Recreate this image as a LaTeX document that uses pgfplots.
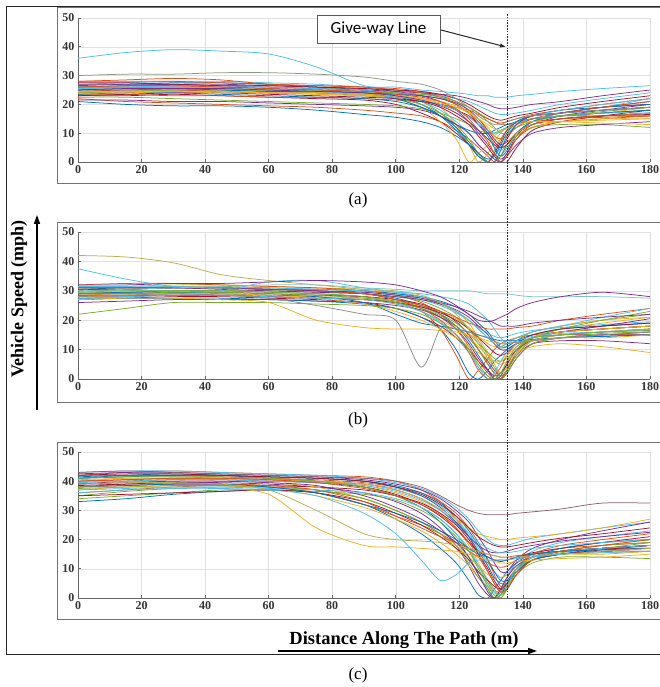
\documentclass[border=0pt]{standalone}
\usepackage{pgfplots}
\pgfplotsset{compat=1.18}
\usepackage{pgfplotstable}
\usepackage{fontspec}
\setmainfont{Liberation Serif}
\newfontfamily\carlito{Carlito}
\usetikzlibrary{arrows.meta}

\definecolor{mA}{rgb}{0,0.447,0.741}
\definecolor{mB}{rgb}{0.85,0.325,0.098}
\definecolor{mC}{rgb}{0.929,0.694,0.125}
\definecolor{mD}{rgb}{0.494,0.184,0.556}
\definecolor{mE}{rgb}{0.466,0.674,0.188}
\definecolor{mF}{rgb}{0.301,0.745,0.933}
\definecolor{mG}{rgb}{0.635,0.078,0.184}
\definecolor{mOl}{rgb}{0.72,0.68,0.35}
\definecolor{mGy}{rgb}{0.55,0.6,0.5}
\definecolor{mTe}{rgb}{0.5,0.76,0.8}
\definecolor{mDr}{rgb}{0.55,0.38,0.42}

\pgfplotscreateplotcyclelist{matlab}{{mA},{mB},{mC},{mD},{mE},{mF},{mG}}

\pgfplotstableread[header=has colnames]{
L 0 15 30 45 60 75 90 100 108 114 119 123 126 129 131 133 135 138 143 152 165 180
a1 36 38 39 38.5 37.5 33 26.5 26 25 24.5 24 23.5 23 23 22.5 22.5 22.5 23 23.5 24.5 25.5 26.5
a2 30 30.5 30.5 31 31 30.5 29.5 28 27 25 22 19 16 14 13 13 14 15 16 17 18 19
a3 21 20 19.5 19.5 19 18 16.5 15.5 14 12 9 6 3 0 0 2 6 10 13 15 16 17
a4 22 21 20.5 20 19.5 19 18 17 16 14 11 8 5 2 0 0 3 8 12 14 15 16
a5 25 25.5 26 26 26 25.5 25 24 22 19 13 6 0 3 7 10 12 14 15 16 17 19
a6 26 26.5 27 27 26.5 26 25.5 24.5 23 21 18 14 10 6 3 1 3 9 14 17 19 21
a7 24 24.5 25 25 25 24.5 24 23 21 17 12 6 2 0 4 8 11 13 15 16 17 18
a8 27 27.5 28 28 27.5 27 26 25 24 23 21 18 14 10 6 4 6 10 14 17 19 22
a9 23 23 23.5 23 22.5 22 21.5 20 17 14 10 6 3 0 3 7 11 14 16 17 19 20
a10 25 25 25.5 25.5 25 24.5 24 23.5 23 22 20 17 13 9 5 2 4 10 14 16 16 17
a11 28 28.5 29 28.5 27 26.5 26 25.5 24.5 23 21 19 17 15 14 13.5 14 15 16.5 18 20 22
a12 24 24 24.5 24.5 24 23.5 23 22 19 14 8 0 3 6 9 11 12 14 15 16 16 17
a13 26 26 26 26 25.5 25 24.5 24 23 22 20.5 18 15 11 8 6 7 10 13 16 18 20
a14 22.5 22.5 22 21.5 21 20.5 20 19.5 18.5 17 15 13 11 10 10 11 12 14 15 16 17 18
a15 25.5 26 26 25.5 25 25 24.5 24 23.5 23 22 21 19.5 18 17 16.5 16.5 17 18 20 22 24
a16 24.5 25 25 24.5 24 24 23.5 22.5 21 19 16 13 9 5 2 0 0 5 11 14 16 18
a17 26.5 27 27.5 27.5 27 26 25 23 20 16 11 6 2 0 0 4 9 13 15 16 17 18
a18 23.5 23.5 23 23 22.5 22.5 22 21.5 21 20 19 18 16.5 15 14 13 13 13.5 14 15 15.5 16
a19 25 25 25 25 24.5 24 23.5 23 22 20 17 14 11 8 6 5 6 9 12 14 15 15
a20 27 27 27 26.5 26 25.5 25 24.5 24 23.5 23 22 21 20 19 18.5 18.5 19 20 21 23 25
a21 24 24.5 25 25 24.5 24 23 22 20 17 13 8 3 0 0 2 5 9 12 13 13 12
a22 26 26 26.5 26.5 26 25.5 25 23.5 21 18 14 10 6 3 2 5 9 13 15 16 17 17
a23 23 23.5 24 24 23.5 23 22.5 22 21 20 18 16 13 10 7 5 6 10 13 15 16 16.5
a24 25 25.5 25.5 25 24.5 24.5 24 22 19 16 13 11 10 10 11 12 13 14 16 18 19 20
a25 28 28 28 27.5 27 26.5 26 25 24 22.5 20 17 14 11 9 8 9 12 15 17 19 21
a26 24.5 24.5 24.5 24 24 23.5 23 22.5 22 21 19.5 17.5 15 12 9 7 7 10 13 14 14.5 15
a27 21.5 21.5 21 21 20.5 20 19.5 19 18 16 13 10 6 3 1 0 2 6 10 12 13 14
a28 26 26 25.5 25.5 25 25 24.5 24 23.5 22.5 21 19 17 14 12 10 10 12 14 16 17.5 19
a29 25.5 25.5 26 25.5 25 24.5 23.5 22.5 21.5 20 18 15.5 13 11 10 10.5 12 14 16 18 20 22
a30 27.5 27.5 27 26.5 26.5 26 25.5 25 24.5 23.5 22 20 18 16 15 14.5 15 16 17 19 21 23
a31 23.5 24 24 23.5 23 22.5 22 21 19 16 12 7 3 1 2 6 10 14 16 17 18 19
a32 26 26.5 26.5 26 25.5 25 24.5 23.5 22.5 21 18.5 15 11 7 3 0 2 8 13 15 16 16
a33 24 24 24.5 24.5 24 24 23.5 23 22 20.5 19 17 15 13 11.5 11 11.5 13 14 14 13.5 13
a34 25 25.5 25.5 25.5 25 24.5 24 23 21.5 19.5 17 14 11 8 6 5 8 13 16 17 18 19
}\rawA
\pgfplotstabletranspose[colnames from=L,input colnames to=x]{\tA}{\rawA}

\pgfplotstableread[header=has colnames]{
L 0 15 30 45 60 75 90 100 108 114 119 123 126 129 131 133 135 138 143 152 165 180
b1 42 41.5 39.5 35.5 33.5 32 30.5 30 28.5 26 22 17 12 7 4 2 4 9 13 15 16 17
b2 37.5 34 31.5 31 31 30.5 30 29.5 29 28 27 25.5 23 20 17 14 12 13 14.5 15.5 16 16.5
b3 22 24 26 26 26 25.5 25 24 22 19 15 10 5 1 0 2 6 11 14 15 16 16.5
b4 27 27.5 27.5 27 26 20 17.5 17 17 16.5 16 15 14 13 12.5 12 12 12.5 13 14 14 15
b5 28 28.5 29 28.5 27.5 25 22 20 4 17 17 16 15 14 13 12 12 12.5 13 14 15 16
b6 30 30.5 31 31 30.5 30 29 27.5 25 22 18 13 8 3 0 0 3 9 14 16 17 18
b7 29 29.5 30 30 29.5 29 28 26 23 17 8 0 3 7 10 12 13 14 15 16 17 18
b8 31 31.5 32 32 31.5 31 30.5 29.5 28 26 23 19 14 9 5 2 4 9 14 17 19 21
b9 28 28 28.5 28.5 28 27.5 27 26 24 21 17 12 7 3 0 1 5 10 14 15 16 17
b10 30 30.5 31 31.5 32 32 31 30.5 30 30 30 30 29.5 29 29 29 29 28.5 28 28 28 27.5
b11 32 32 32.5 32.5 33 33.5 33 32 30 28 25 22 20 19.5 20 21 22 24 26 28 29.5 28
b12 31 31 31.5 31.5 31 30.5 30 29 27.5 25.5 23 20 17 14 12 10.5 11 13 16 18 20 22
b13 29.5 30 30 30 29.5 29 28 26 23 19 14 9 4 1 0 2 5 10 14 16 18 19
b14 27 27.5 28 28 27.5 27 26 24 21 18 14 10 6 3 1 2 5 10 13 15 15 16
b15 30.5 31 31 31 30.5 30.5 30 29 28 26.5 24.5 22 19 16 13 11 11 13 15 17 18 19
b16 32 32.5 32.5 32 31.5 31 30 28.5 26 22 17 11 6 2 0 0 3 9 14 16 17 18
b17 28.5 29 29 29 28.5 28 27.5 26.5 25 23 20.5 17.5 14.5 12 11 11 12 14 16 18 20 21
b18 26 26.5 27 27 27 26.5 26 25 23.5 21 18 14 10 6 3 1 3 8 12 13 13 12
b19 30 30 30 30 30 29.5 29 28 26.5 24 21 17 13 8 4 1 3 8 13 15 16 17
b20 31.5 31.5 31.5 31 30.5 30 29.5 28.5 27 25 22.5 20 17.5 15.5 14.5 14 14.5 15.5 16.5 17.5 18.5 19.5
b21 29 29 29.5 29.5 29 28.5 28 27 25.5 23 19.5 15 10 5 2 0 2 7 12 14 15 15
b22 27.5 27.5 27.5 27.5 27 26.5 25.5 24 21 17 10 2 0 3 6 8 10 12 13 14 14.5 15
b23 30 30.5 31 31 30.5 30 29 27 25 23 21 19 18 17 17 17 17 17.5 18 20 22 24
b24 28 28.5 29 29 28.5 28 27 25.5 23 20 17 14 11 8 6 5 6 9 11 12 11 9
b25 31 31 31 30.5 30 29.5 29 28 27 25.5 23.5 21 18 15 12 10 10 12 14 16 18 20.5
b26 29.5 29.5 30 30 29.5 29 28 26.5 24.5 22 19 15.5 12 9 7 6 7 10 14 17 20 23
b27 27 28 29 30 33 33.5 31 29.5 28 26 23 20 17 14 12 11 12 14 16 18 21 24
b28 28.5 28.5 28.5 28.5 28 27.5 27 26 24.5 22.5 20 17 14 11 9 8 9 12 15 17 18 19
b29 29 29.5 29.5 29 28.5 28 26 22 19 18 17 16 15 14 13.5 13 13 13 13.5 14 14.5 15
b30 31 31 31 31 30.5 30 29 27 24 20 15 9 3 0 1 4 8 12 14 16 17 18
b31 28 28.5 29 29 28.5 27.5 25.5 23 20 17 14 11 9 7 6 6 8 11 14 16 17 18
b32 30.5 30.5 31 31 30.5 30 29.5 28.5 27.5 26 24.5 23 21.5 20 19 18 18 18 19 20 21 22
b33 29 29 29.5 29.5 29 28.5 27.5 26 24 21.5 18 14 10 5 2 0 2 7 12 14 15.5 16
b34 27.5 28 28.5 28.5 28 27.5 27 25.5 23 19.5 15 10 4 0 2 6 9 12 14 15 16 17
}\rawB
\pgfplotstabletranspose[colnames from=L,input colnames to=x]{\tB}{\rawB}

\pgfplotstableread[header=has colnames]{
L 0 15 30 45 60 75 90 100 108 114 119 123 126 129 131 133 135 138 143 152 165 180
c1 38 38 38 37.5 35.5 24 18 17.5 17 16.5 16 15 14 13 12.5 12 12 12.5 13 13.5 14 15
c2 39 39.5 39.5 39 37 30 22 20 19.5 19 18 17 16 15 14.5 14 14 14 14.5 15 16 17
c3 41 42 42.5 42 41 40 38 35 31 26 20 14 8 3 0 1 5 10 14 16 17 18
c4 42 43 43.5 43 42.5 42 41.5 40 37 33 27 21 15 9 5 2 4 10 15 17 18 19
c5 40 41 41 41 40.5 40 38.5 36 33 29 24 18 12 6 2 0 3 9 14 16 18 20
c6 36 37 37.5 37.5 37 35 29 22 13 6 8 12 13 13 13 13 13 13.5 14 15 15.5 16
c7 38 39 39.5 39.5 39 38 36 33 29 24 18 11 5 1 0 3 7 12 15 16 17 17
c8 35 36.5 37.5 38 38 37 34 30 26 22 18 13 9 5 2 1 4 10 14 16 17 18
c9 43 43.5 43 42.5 42 41.5 41 40 38 35 32 30 29 28.5 28.5 28.5 28.5 29 29.5 30.5 32.5 32.5
c10 41 41.5 41.5 41 40.5 40 39 37.5 35 31.5 27 22 17 12 9 7 8 12 16 19 21 23
c11 39 40 40.5 40.5 40 39.5 38 35.5 32 28 23.5 19 16 14 13 12.5 13 14 15.5 17 19 21
c12 33 34 35.5 36.5 37 36 32 27 22 17 12 6 1 0 3 6 9 12 14 15 16 17
c13 42 42 42 41.5 41 40.5 39.5 38 36 33 29 24 19 13 8 4 5 10 15 18 20 22
c14 37 38 38.5 38.5 37.5 35 31 27 23 19 15 11 7 4 2 3 6 10 13 15 15.5 16
c15 40 40.5 41 41 40.5 40 39 37 34 30 25.5 21 18 16 15.5 15.5 16 17 18 19.5 21 22.5
c16 34 35 36 37 37 36.5 35.5 33.5 30 26 21 16 11 6 3 1 3 8 12 14 14 13.5
c17 43 43.5 43.5 43 42.5 42 41 39.5 37.5 34.5 31 27 23 20 18.5 18 18 19 20.5 22 24 26
c18 38.5 39 39 39 38.5 38 37 35 32.5 29 25 20 15 10 6 3 3 8 13 15 16 16
c19 41.5 42 42 42 41.5 41 40 38.5 36 32.5 28 23 18 13 9 6 6 10 14 17 19 20
c20 36 37 38 38.5 38 36 32 28 25 22 19 16 14 12 11 10.5 11 13 15 16 17 17
c21 40 40 40 40 39.5 38 34 30 26 22 18 14 11 8 7 7 8 11 14 15 15 16
c22 42.5 43 43 42.5 42 41.5 40.5 39 37 34 30 26 21 16 12 9 9 13 17 20 23 26
c23 37.5 38 38.5 38.5 38 37 34 30 26 22 17 12 7 3 0 2 5 10 13 15.5 17 19
c24 39.5 40 40.5 40.5 40 39.5 38.5 36.5 33.5 30 26 22 19 17 16 15.5 15.5 16 17 18 19 20
c25 35 35.5 36 36.5 37 36 33 29 25 21 17 13 9 6 4 3 5 9 13 15 16.5 18
c26 41 41.5 42 42 41.5 41 40 38 35 31 26 21 16 11 7 5 5 9 13 15 17 18
c27 38 38.5 39 39 38.5 37 33 28 24 21 19 17 16 15 14.5 14 14 14.5 15 16 17 18
c28 40.5 41 41 41 40.5 40 39 37 34 30.5 27 24 22 21 20.5 20 20 20.5 21 22 24 27
c29 39 39.5 40 40 39.5 38.5 35 31 27 23 19 14 8 2 0 3 7 11 14 16 17 18
c30 41 41.5 41.5 41.5 41 40 38 35 31 27 22 16 10 4 1 0 3 9 14 16 18 19
c31 37 37.5 38 38 37.5 37 36 34 31 27 22 17 11 5 2 1 4 10 14 16 17 18
c32 42 42.5 42.5 42 41.5 41 40 38 35.5 32 28 24 21 19 18 17.5 17.5 18 19 20.5 22 24
c33 38 38.5 39 39 38 36 32 29 26 23 20 17 15 14 13 13 13 14 15 16 16.5 17
c34 40 40.5 41 41 40.5 39.5 37.5 35 32 28.5 24 19 14 9 5 2 3 8 13 16 18 20
}\rawC
\pgfplotstabletranspose[colnames from=L,input colnames to=x]{\tC}{\rawC}

\pgfplotsset{panel/.style={
  scale only axis, width=572pt, anchor=south west,
  xmin=0, xmax=180, ymin=0, ymax=50,
  xtick={0,20,...,180}, ytick={0,10,...,50},
  axis x line*=bottom, axis y line*=left,
  grid=major, grid style={black!12, line width=0.5pt},
  axis line style={black!60, line width=0.8pt},
  tick style={black!60, line width=0.7pt},
  tick align=inside, major tick length=3pt,
  ticklabel style={font=\rmfamily\fontsize{12}{12}\selectfont\bfseries, text=black!80},
  /pgf/number format/assume math mode=true,
  cycle list name=matlab,
  every axis plot/.append style={line width=0.75pt, smooth, mark=none},
}}

\begin{document}
\begin{tikzpicture}[x=1pt,y=1pt]
\path[use as bounding box] (0,0) rectangle (660,687);
\clip (0,0) rectangle (660,687);
% outer frame and panel boxes
\draw[line width=1pt, black!85] (6.5,32) rectangle (680,680.5);
\draw[black!55, line width=0.8pt] (57,504) rectangle (680,680);
\draw[black!55, line width=0.8pt] (57,285) rectangle (680,465);
\draw[black!55, line width=0.8pt] (57,68) rectangle (680,245);

% panel (a)
\begin{axis}[panel, height=144pt, at={(78pt,525pt)}]
\pgfplotsinvokeforeach{a3,a4,a5,a6,a7,a8,a9,a10,a11,a12,a13,a14,a15,a16,a17,a18,a19,a20,a21,a22,a23,a24,a25,a26,a27,a28,a29,a30,a31,a32,a33,a34}{
  \addplot table[x=x,y=#1]{\tA};
}
\addplot[color=mF] table[x=x,y=a1]{\tA};
\addplot[color=mGy] table[x=x,y=a2]{\tA};
\end{axis}

% panel (b)
\begin{axis}[panel, height=147pt, at={(78pt,308pt)}]
\pgfplotsinvokeforeach{b6,b7,b8,b9,b12,b13,b14,b15,b16,b17,b18,b19,b20,b21,b22,b23,b24,b25,b26,b27,b28,b29,b30,b31,b32,b33,b34}{
  \addplot table[x=x,y=#1]{\tB};
}
\addplot[color=mOl] table[x=x,y=b1]{\tB};
\addplot[color=mF] table[x=x,y=b2]{\tB};
\addplot[color=mE] table[x=x,y=b3]{\tB};
\addplot[color=mC] table[x=x,y=b4]{\tB};
\addplot[color=black!45] table[x=x,y=b5]{\tB};
\addplot[color=mTe] table[x=x,y=b10]{\tB};
\addplot[color=mD] table[x=x,y=b11]{\tB};
\end{axis}

% panel (c)
\begin{axis}[panel, height=146pt, at={(78pt,89pt)}]
\pgfplotsinvokeforeach{c3,c4,c5,c7,c8,c10,c11,c12,c13,c14,c15,c16,c17,c18,c19,c20,c21,c22,c23,c24,c25,c26,c27,c28,c29,c30,c31,c32,c33,c34}{
  \addplot table[x=x,y=#1]{\tC};
}
\addplot[color=mC] table[x=x,y=c1]{\tC};
\addplot[color=mOl] table[x=x,y=c2]{\tC};
\addplot[color=mF] table[x=x,y=c6]{\tC};
\addplot[color=mDr] table[x=x,y=c9]{\tC};
\end{axis}

% give-way line
\draw[black!85, line width=0.7pt, dash pattern=on 1.6pt off 1.2pt] (507,673) -- (507,89);
\node[draw=black!65, line width=0.8pt, fill=white, minimum width=123pt, minimum height=28pt,
      inner sep=0pt, font=\carlito\fontsize{17}{17}\selectfont] at (378.5,658) {Give-way Line};
\draw[-{Latex[length=6pt,width=4.5pt]}, line width=1pt, black!85] (441,657) -- (506,640);

% captions
\node[font=\rmfamily\fontsize{17}{17}\selectfont] at (358,487) {(a)};
\node[font=\rmfamily\fontsize{17}{17}\selectfont] at (358,267) {(b)};
\node[font=\rmfamily\fontsize{17}{17}\selectfont] at (358,12) {(c)};

% axis titles with arrows
\node[rotate=90, font=\rmfamily\fontsize{18}{18}\selectfont\bfseries] at (19,388) {Vehicle Speed (mph)};
\draw[-{Triangle[length=9pt,width=6pt]}, line width=1.6pt] (37,277) -- (37,472);
\node[font=\rmfamily\fontsize{18.5}{18.5}\selectfont\bfseries] at (404,47) {Distance Along The Path (m)};
\draw[-{Triangle[length=9pt,width=6pt]}, line width=1.5pt] (278,36) -- (537,36);
\end{tikzpicture}
\end{document}
